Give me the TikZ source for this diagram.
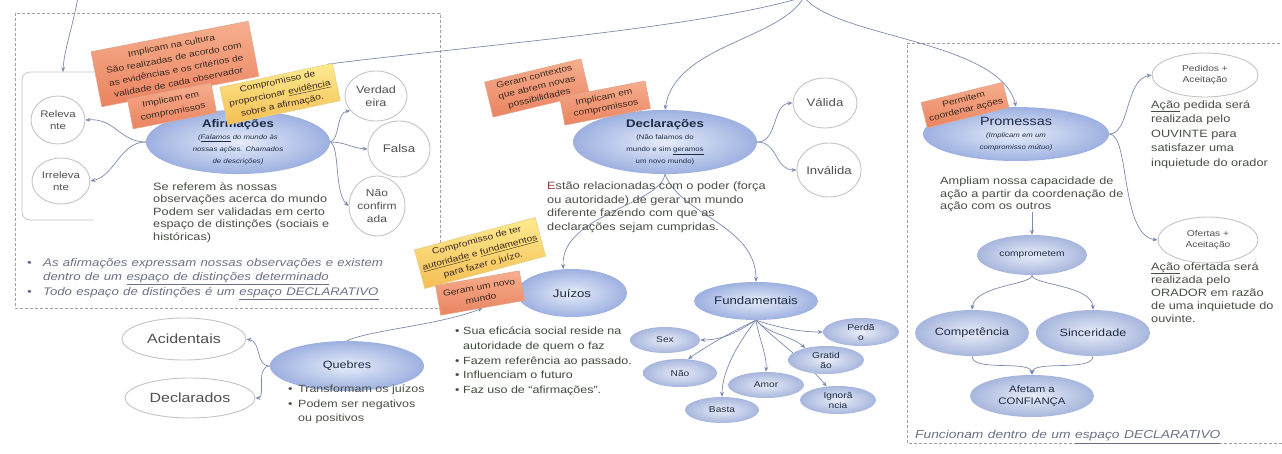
\documentclass[tikz,border=0pt]{standalone}
\usepackage{fontspec}
\setmainfont{Liberation Sans}[FakeStretch=1.2]
\usetikzlibrary{shapes.geometric,arrows.meta,backgrounds}

\definecolor{linkc}{HTML}{7D8BB0}
\definecolor{dashc}{HTML}{A0A0A0}
\definecolor{circc}{HTML}{C4C4C4}
\definecolor{circtxt}{HTML}{505050}
\definecolor{bodyc}{HTML}{4A4F45}
\definecolor{navy}{HTML}{1F2A44}
\definecolor{notec}{HTML}{6B7088}
\definecolor{bullc}{HTML}{3F4A3A}
\definecolor{estc}{HTML}{8B3A3A}
\definecolor{blueIn}{HTML}{E6EDFA}
\definecolor{blueOut}{HTML}{9DB0E0}
\definecolor{lblueIn}{HTML}{E8EDF8}
\definecolor{lblueOut}{HTML}{A7B6DD}
\definecolor{pinkT}{HTML}{F6AE8E}
\definecolor{pinkB}{HTML}{EA8360}
\definecolor{pinkE}{HTML}{E3A48C}
\definecolor{yelT}{HTML}{FDEA8E}
\definecolor{yelB}{HTML}{F4BE55}
\definecolor{yelE}{HTML}{E8CF84}
\definecolor{notetxt}{HTML}{3A2A20}

\newcommand\fsz[2]{\fontsize{#1}{#2}\selectfont}

\begin{document}
\begin{tikzpicture}[x=1pt,y=-1pt,
  link/.style={draw=linkc, line width=0.7pt, -{Stealth[length=5pt,width=4pt]}},
  plain/.style={draw=linkc, line width=0.7pt},
  wh/.style 2 args={minimum width=#1pt, minimum height=#2pt},
  bigell/.style={ellipse, inner sep=0pt, inner color=blueIn, outer color=blueOut, align=center, text=navy},
  smell/.style={ellipse, inner sep=0pt, inner color=lblueIn, outer color=lblueOut, align=center, text=navy},
  wcirc/.style={ellipse, draw=circc, line width=0.9pt, fill=white, inner sep=0pt, align=center, text=circtxt},
  pinknote/.style={rectangle, inner sep=0pt, align=center, top color=pinkT, bottom color=pinkB, draw=pinkE, line width=0.6pt, text=notetxt},
  yelnote/.style={rectangle, inner sep=0pt, align=center, top color=yelT, bottom color=yelB, draw=yelE, line width=0.6pt, text=notetxt},
  body/.style={inner sep=0pt, anchor=north west, align=left, text=bodyc},
]
\useasboundingbox (0,0) rectangle (1282,453);

% ---------- Afirmações ----------
\coordinate (topL) at (78,-3);
\coordinate (wbtop) at (63,72);
\coordinate (topC) at (804,-3);
\node[wcirc, wh={54}{48}, font=\fsz{9.5}{12}] (rel) at (58,120) {Releva\\nte};
\node[wcirc, wh={58}{46}, font=\fsz{9.5}{12}] (irr) at (61,181) {Irreleva\\nte};
\node[wcirc, wh={62}{50}, font=\fsz{10.5}{13}] (verd) at (376,96) {Verdad\\eira};
\node[wcirc, wh={62}{56}, font=\fsz{11}{13}] (fals) at (399,149) {Falsa};
\node[wcirc, wh={56}{60}, font=\fsz{10}{13}] (nconf) at (377,206) {Não\\confirm\\ada};
\node[bigell, wh={184}{56}] (afirm) at (238,142)
  {{\fsz{11}{15}\bfseries Afirmações}\\{\fsz{6.5}{10.5}\itshape(\underline{Falamos} do mundo às}\\{\fsz{6.5}{10.5}\itshape nossas ações. Chamados}\\{\fsz{6.5}{10.5}\itshape de descrições)}};
\node[body, font=\fsz{10.6}{12.5}] (afirmtxt) at (153,182)
  {Se referem às nossas\\observações acerca do mundo\\Podem ser validadas em certo\\espaço de distinções (sociais e\\históricas)};
\node[body, font={\fsz{11}{14.5}\itshape\spaceskip=4.3pt plus 1pt}, text=notec] (afirmnote) at (27,258)
  {\makebox[16pt][l]{•}As afirmações expressam nossas observações e existem\\\hspace*{16pt}dentro de um \underline{espaço de distinções determinado}\\\makebox[16pt][l]{•}Todo espaço de distinções é um \underline{espaço DECLARATIVO}};
\node[pinknote, wh={160}{56}, rotate=11, font=\fsz{8.5}{12.5}] (pk1) at (175,64)
  {Implicam na cultura\\São realizadas de acordo com\\as evidências e os critérios de\\validade de cada observador};
\node[pinknote, wh={85}{30}, rotate=11, font=\fsz{8.5}{12.5}] (pk2) at (172,106) {Implicam em\\compromissos};
\node[yelnote, wh={115}{38}, rotate=12, font=\fsz{8.5}{12}] (yl1) at (280,94)
  {Compromisso de\\proporcionar \underline{evidência}\\sobre a afirmação.};

% ---------- Declarações ----------
\node[bigell, wh={184}{56}] (decl) at (665,142)
  {{\fsz{11}{15}\bfseries Declarações}\\{\fsz{6.5}{10.5}(Não falamos do}\\{\fsz{6.5}{10.5}mundo e sim \underline{geramos}}\\{\fsz{6.5}{10.5}um novo mundo)}};
\node[wcirc, wh={64}{50}, font=\fsz{11}{13}] (val) at (825,103) {Válida};
\node[wcirc, wh={64}{54}, font=\fsz{11}{13}] (inval) at (829,170) {Inválida};
\node[body, font=\fsz{10.6}{13.5}] (decltxt) at (547,182)
  {\textcolor{estc}{E}stão relacionadas com o poder (força\\ou autoridade) de gerar um mundo\\diferente fazendo com que as\\declarações sejam cumpridas.};
\node[pinknote, wh={99}{36}, rotate=13.5, font=\fsz{8.5}{11}] (pkA) at (537,88) {Geram contextos\\que abrem novas\\possibilidades};
\node[pinknote, wh={87}{28}, rotate=11, font=\fsz{8.5}{11}] (pkB) at (605,103) {Implicam em\\compromissos};

% ---------- Juízos ----------
\node[bigell, wh={110}{48}, font=\fsz{11}{13}] (juiz) at (572,293) {Juízos};
\node[body, font=\fsz{10.4}{14.6}, text=bullc] (juiztxt) at (455,327)
  {\makebox[8pt][l]{•}Sua eficácia social reside na\\\hspace*{8pt}autoridade de quem o faz\\\makebox[8pt][l]{•}Fazem referência ao passado.\\\makebox[8pt][l]{•}Influenciam o futuro\\\makebox[8pt][l]{•}Faz uso de “afirmações”.};
\node[yelnote, wh={125}{40}, rotate=15, font=\fsz{8.5}{12.5}] (ylJ) at (480,253)
  {Compromisso de ter\\\underline{autoridade} e \underline{fundamentos}\\para fazer o juízo.};
\node[pinknote, wh={85}{30}, rotate=10, font=\fsz{8.5}{11}] (pkJ) at (480,293) {Geram um novo\\mundo};

% ---------- Quebres ----------
\node[bigell, wh={154}{50}, font=\fsz{10.5}{13}] (queb) at (347,366) {Quebres};
\node[wcirc, wh={124}{42}, font=\fsz{13.3}{15}] (acid) at (184,339) {Acidentais};
\node[wcirc, wh={130}{40}, font=\fsz{13.3}{15}] (decla) at (190,398) {Declarados};
\node[body, font=\fsz{10.4}{14.5}] (quebtxt) at (288,385)
  {\makebox[10pt][l]{•}Transformam os juízos\\\makebox[10pt][l]{•}Podem ser negativos\\\hspace*{10pt}ou positivos};

% ---------- Fundamentais ----------
\node[bigell, wh={124}{38}, font=\fsz{11}{13}] (fund) at (756,301) {Fundamentais};
\node[smell, wh={70}{26}, font=\fsz{8.5}{10}] (sex) at (665,340) {Sex};
\node[smell, wh={74}{28}, font=\fsz{8.5}{10}] (nao) at (680,373) {Não};
\node[smell, wh={74}{26}, font=\fsz{8.5}{10}] (basta) at (722,410) {Basta};
\node[smell, wh={76}{26}, font=\fsz{8.5}{10}] (amor) at (766,385) {Amor};
\node[smell, wh={76}{28}, font=\fsz{8.5}{10}] (ign) at (838,400) {Ignorâ\\ncia};
\node[smell, wh={76}{28}, font=\fsz{8.5}{10}] (grat) at (826,360) {Gratid\\ão};
\node[smell, wh={76}{28}, font=\fsz{8.5}{10}] (perd) at (861,332) {Perdã\\o};

% ---------- Promessas ----------
\node[bigell, wh={186}{54}] (prom) at (1016,134)
  {{\fsz{12}{14}Promessas}\\{\fsz{6.5}{9.5}\itshape(Implicam em um}\\{\fsz{6.5}{9.5}\itshape compromisso mútuo)}};
\node[pinknote, wh={84}{26}, rotate=14, font=\fsz{8.5}{10.5}] (pkP) at (965,105) {Permitem\\coordenar ações};
\node[wcirc, wh={106}{44}, font=\fsz{8.5}{11}] (ped) at (1205,75) {Pedidos +\\Aceitação};
\node[wcirc, wh={100}{46}, font=\fsz{8.5}{11}] (ofer) at (1208,240) {Ofertas +\\Aceitação};
\node[body, font=\fsz{10.6}{14.5}] (pedtxt) at (1151,100)
  {\underline{Ação} pedida será\\realizada pelo\\OUVINTE para\\satisfazer uma\\inquietude do orador};
\node[body, font=\fsz{10.6}{13.2}] (ofertxt) at (1151,262)
  {\underline{Ação} ofertada será\\realizada pelo\\ORADOR em razão\\de uma inquietude do\\ouvinte.};
\node[body, font=\fsz{10.6}{12.5}] (promtxt) at (940,177)
  {Ampliam nossa capacidade de\\ação a partir da coordenação de\\ação com os outros};
\node[smell, wh={110}{40}, font=\fsz{8.5}{10}] (compr) at (1032,255) {comprometem};
\node[smell, wh={114}{46}, font=\fsz{10.5}{12}] (comp) at (972,333) {Competência};
\node[smell, wh={114}{46}, font=\fsz{10.5}{12}] (sinc) at (1093,333) {Sinceridade};
\node[smell, wh={124}{42}, font=\fsz{9.5}{12}] (afet) at (1032,396) {Afetam a\\CONFIANÇA};
\node[inner sep=0pt, anchor=west, font={\fsz{11.5}{13}\itshape\spaceskip=4.5pt plus 1pt}, text=notec] (functxt) at (915,437)
  {Funcionam dentro de um \underline{espaço DECLARATIVO}};

% ---------- frames and connectors ----------
\begin{pgfonlayer}{background}
\fill[white] (0,0) rectangle (1282,453);
\draw[dashc, line width=0.8pt, dash pattern=on 3pt off 2pt] (15,13) rectangle (440,308);
\draw[dashc, line width=0.8pt, dash pattern=on 3pt off 2pt] (1300,43) -- (907,43) -- (907,443) -- (1300,443);
\draw[circc, line width=0.8pt, rounded corners=8pt] (96,72) -- (22,72) -- (22,220) -- (93,220);

\draw[link] (topL) .. controls (72,30) and (64,50) .. (wbtop);
\draw[plain] (yl1.20) .. controls (480,45) and (700,28) .. (topC);
\draw[link] (topC) .. controls (780,40) and (675,45) .. (decl.north);
\draw[link] (topC) .. controls (835,38) and (1000,40) .. (prom.north);

\draw[link] (afirm.west) .. controls (120,142) and (115,118) .. (rel.east);
\draw[link] (afirm.west) .. controls (120,142) and (115,176) .. (irr.east);
\draw[link] (afirm.east) .. controls (340,140) and (336,112) .. (verd.210);
\draw[link] (afirm.east) .. controls (345,142) and (352,148) .. (fals.west);
\draw[link] (afirm.east) .. controls (340,146) and (334,192) .. (nconf.west);

\draw[link] (decl.east) .. controls (778,142) and (772,104) .. (val.west);
\draw[link] (decl.east) .. controls (778,142) and (775,170) .. (inval.west);
\draw[link] (decl.south) .. controls (660,205) and (560,215) .. (juiz.110);
\draw[link] (decl.south) .. controls (680,215) and (756,225) .. (fund.north);

\draw[link] (queb.north) .. controls (370,330) and (440,325) .. (pkJ.south);
\draw[link] (queb.west) .. controls (255,366) and (262,342) .. (acid.east);
\draw[link] (queb.west) .. controls (255,366) and (266,398) .. (decla.east);

\draw[link] (fund.south) .. controls (740,330) and (725,340) .. (sex.east);
\draw[link] (fund.south) .. controls (735,330) and (708,345) .. (nao.60);
\draw[link] (fund.south) .. controls (740,340) and (722,370) .. (basta.north);
\draw[link] (fund.south) .. controls (758,335) and (767,355) .. (amor.north);
\draw[link] (fund.south) .. controls (770,335) and (790,335) .. (grat.150);
\draw[link] (fund.south) .. controls (775,340) and (805,360) .. (ign.130);
\draw[link] (fund.south) .. controls (780,328) and (800,332) .. (perd.west);

\draw[link] (prom.east) .. controls (1130,134) and (1125,80) .. (ped.west);
\draw[link] (prom.east) .. controls (1130,134) and (1120,235) .. (ofer.west);
\draw[link] (compr.north |- promtxt.south) -- (compr.north);
\draw[link] (compr.south) .. controls (1032,285) and (975,285) .. (comp.north);
\draw[link] (compr.south) .. controls (1032,285) and (1092,285) .. (sinc.north);
\draw[link] (comp.south) .. controls (972,372) and (1030,360) .. (afet.north);
\draw[link] (sinc.south) .. controls (1093,372) and (1034,360) .. (afet.north);
\end{pgfonlayer}
\end{tikzpicture}
\end{document}
